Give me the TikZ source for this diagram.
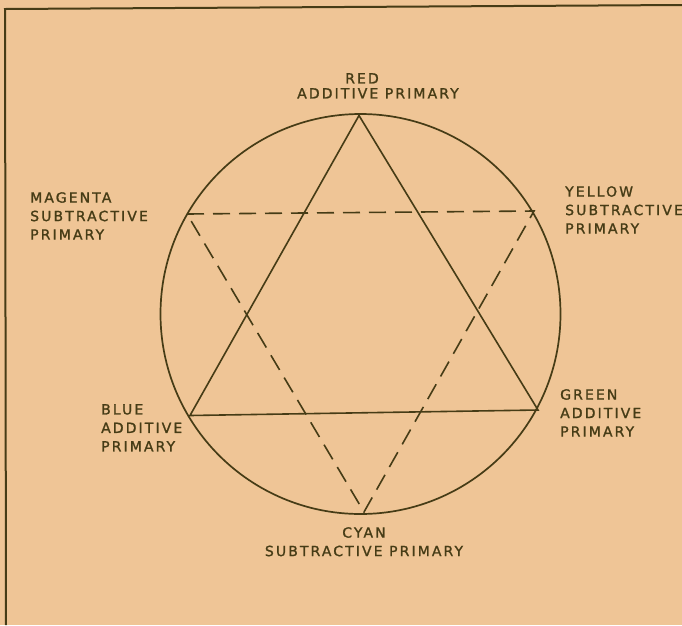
\documentclass[tikz,border=0pt]{standalone}
\usepackage{fontspec}
\newfontfamily\lettering[LetterSpace=15,FakeBold=1.3]{DejaVu Sans}
\definecolor{paper}{RGB}{239,197,150}
\definecolor{ink}{RGB}{70,60,22}
\tikzset{
  lbl/.style={font=\lettering\fontsize{14}{18.5}\selectfont,text=ink,inner sep=0pt,align=left},
  addline/.style={draw=ink,line width=1.6pt},
  subline/.style={addline,dash pattern=on 17pt off 9pt},
}
\begin{document}
\begin{tikzpicture}[x=1pt,y=-1pt]
\fill[paper] (0,0) rectangle (682,625);
\useasboundingbox (0,0) rectangle (682,625);
\draw[ink,line width=2pt] (682,5) -- (5,9) -- (6,625);
\draw[ink,line width=1.7pt] (360.5,314) circle (200);
% corners of the two triangles
\coordinate (red) at (359,115.5);
\coordinate (blue) at (190,415.5);
\coordinate (green) at (538,410);
\coordinate (magenta) at (187,214);
\coordinate (yellow) at (534,211);
\coordinate (cyan) at (364,512);
\draw[addline] (red) -- (blue) -- (green) -- cycle;
\draw[subline] (magenta) -- (yellow) -- (cyan) -- cycle;
% labels
\node[lbl,anchor=north] (redname) at (362,73) {RED};
\node[lbl,anchor=north] (redkind) at (378,88) {ADDITIVE PRIMARY};
\node[lbl,anchor=north west] (magentalbl) at (30,192) {MAGENTA\\SUBTRACTIVE\\PRIMARY};
\node[lbl,anchor=north west] (yellowlbl) at (565,186) {YELLOW\\SUBTRACTIVE\\PRIMARY};
\node[lbl,anchor=north west] (bluelbl) at (101,404) {BLUE\\ADDITIVE\\PRIMARY};
\node[lbl,anchor=north west] (greenlbl) at (560,389) {GREEN\\ADDITIVE\\PRIMARY};
\node[lbl,anchor=north,align=center] (cyanlbl) at (364,527) {CYAN\\SUBTRACTIVE PRIMARY};
\end{tikzpicture}
\end{document}
